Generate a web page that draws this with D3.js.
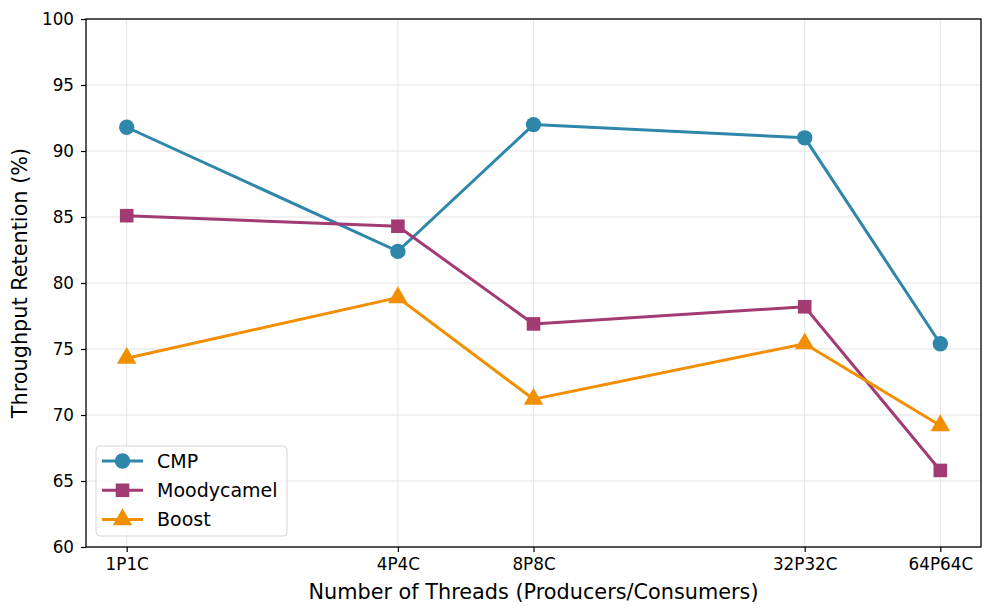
<!DOCTYPE html>
<html>
<head>
<meta charset="utf-8">
<script src="https://cdn.jsdelivr.net/npm/d3@7"></script>
<style>
  body { margin: 0; background: #fff; }
  text { font-family: "DejaVu Sans", sans-serif; }
</style>
</head>
<body>
<div id="chart"></div>
<script>
// data
var threads = [1, 4, 8, 32, 64];
var threadLabels = ["1P1C", "4P4C", "8P8C", "32P32C", "64P64C"];
var cmp = [91.8, 82.4, 92.0, 91.0, 75.4];
var moodycamel = [85.1, 84.3, 76.9, 78.2, 65.8];
var boost = [74.3, 78.9, 71.2, 75.4, 69.2];
var yTicks = [60, 65, 70, 75, 80, 85, 90, 95, 100];

var series = [
  {name: "CMP", values: cmp, color: "#2E86AB", symbol: d3.symbolCircle},
  {name: "Moodycamel", values: moodycamel, color: "#A23B72", symbol: d3.symbolSquare},
  {name: "Boost", values: boost, color: "#F18F01", symbol: d3.symbolTriangle}
];

var svgWidth = 996;
var svgHeight = 616;
var margin = {top: 19, right: 15, bottom: 69, left: 86};
var width = svgWidth - margin.left - margin.right;
var height = svgHeight - margin.top - margin.bottom;

var svg = d3.select("#chart").append("svg")
  .attr("width", svgWidth)
  .attr("height", svgHeight);

var g = svg.append("g")
  .attr("transform", `translate(${margin.left}, ${margin.top})`);

var x = d3.scaleLog().base(2)
  .domain([Math.pow(2, -0.3), Math.pow(2, 6.3)])
  .range([0, width]);

var y = d3.scaleLinear()
  .domain([60, 100])
  .range([height, 0]);

// grid
g.append("g").selectAll("line.h")
  .data(yTicks).enter().append("line")
  .attr("x1", 0).attr("x2", width)
  .attr("y1", d => y(d)).attr("y2", d => y(d))
  .attr("stroke", "#e3e3e3").attr("stroke-width", 1);
g.append("g").selectAll("line.v")
  .data(threads).enter().append("line")
  .attr("y1", 0).attr("y2", height)
  .attr("x1", d => x(d)).attr("x2", d => x(d))
  .attr("stroke", "#e3e3e3").attr("stroke-width", 1);

// axes
var xAxis = d3.axisBottom(x)
  .tickValues(threads)
  .tickFormat((d, i) => threadLabels[i])
  .tickSize(5).tickPadding(6);
var yAxis = d3.axisLeft(y)
  .tickValues(yTicks)
  .tickSize(5).tickPadding(7);

var gx = g.append("g").attr("transform", `translate(0, ${height})`).call(xAxis);
var gy = g.append("g").call(yAxis);
[gx, gy].forEach(function(a) {
  a.select(".domain").remove();
  a.selectAll("text").attr("font-size", 16.8).attr("fill", "#000")
    .attr("font-family", "DejaVu Sans");
  a.selectAll("line").attr("stroke", "#000").attr("stroke-width", 1.2);
});

// frame
g.append("rect")
  .attr("width", width).attr("height", height)
  .attr("fill", "none").attr("stroke", "#000").attr("stroke-width", 1.3);

// lines + markers
var line = d3.line()
  .x((d, i) => x(threads[i]))
  .y(d => y(d));

series.forEach(function(s) {
  g.append("path")
    .datum(s.values)
    .attr("d", line)
    .attr("fill", "none")
    .attr("stroke", s.color)
    .attr("stroke-width", 3);
  g.selectAll(null)
    .data(s.values).enter().append("path")
    .attr("transform", (d, i) => `translate(${x(threads[i])}, ${y(d)})`)
    .attr("d", d3.symbol().type(s.symbol).size(s.symbol === d3.symbolTriangle ? 165 : 185))
    .attr("fill", s.color);
});

// axis labels
svg.append("text")
  .attr("x", margin.left + width / 2)
  .attr("y", 599)
  .attr("text-anchor", "middle")
  .attr("font-size", 20.8)
  .text("Number of Threads (Producers/Consumers)");

svg.append("text")
  .attr("transform", `translate(27, ${margin.top + height / 2}) rotate(-90)`)
  .attr("text-anchor", "middle")
  .attr("font-size", 20.8)
  .text("Throughput Retention (%)");

// legend
var legend = g.append("g").attr("transform", "translate(10, 427)");
legend.append("rect")
  .attr("width", 191).attr("height", 90)
  .attr("rx", 4)
  .attr("fill", "#fff").attr("fill-opacity", 0.8)
  .attr("stroke", "#d5d5d5");
series.forEach(function(s, i) {
  var row = legend.append("g").attr("transform", `translate(0, ${15 + i * 29.3})`);
  row.append("line")
    .attr("x1", 6).attr("x2", 47)
    .attr("stroke", s.color).attr("stroke-width", 3);
  row.append("path")
    .attr("transform", "translate(26.5, 0)")
    .attr("d", d3.symbol().type(s.symbol).size(s.symbol === d3.symbolTriangle ? 165 : 185))
    .attr("fill", s.color);
  row.append("text")
    .attr("x", 61).attr("y", 0).attr("dy", "0.35em")
    .attr("font-size", 19)
    .text(s.name);
});
</script>
</body>
</html>
